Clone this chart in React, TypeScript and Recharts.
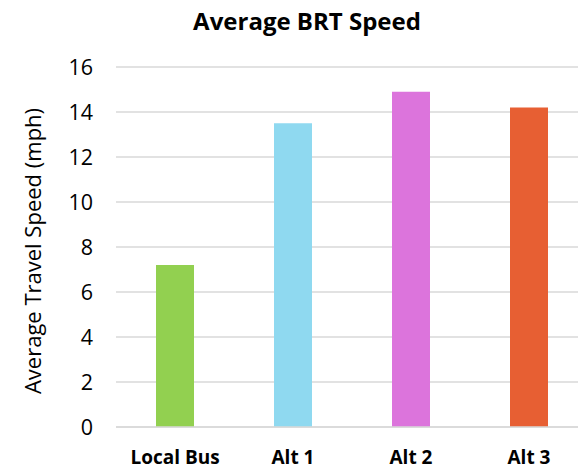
import React from "react";
import { BarChart, Bar, XAxis, YAxis, CartesianGrid, Cell, Label } from "recharts";

const categories = ["Local Bus", "Alt 1", "Alt 2", "Alt 3"];
const speeds = [7.2, 13.5, 14.9, 14.2];
const colors = ["#92D050", "#8FD9F0", "#DC74DC", "#E75F33"];
const yTicks = [0, 2, 4, 6, 8, 10, 12, 14, 16];

const data = categories.map((name, i) => ({ name, speed: speeds[i] }));

const FONT = "'Open Sans', sans-serif";

export default function App() {
  return (
    <div style={{ margin: -8, width: 586, height: 472, overflow: "hidden", position: "relative", background: "#fff" }}>
      <div
        style={{
          position: "absolute",
          left: 0,
          top: 5,
          width: 614,
          textAlign: "center",
          fontFamily: FONT,
          fontWeight: 700,
          fontSize: 24,
          color: "#000",
          lineHeight: "32px",
        }}
      >
        Average BRT Speed
      </div>
      <BarChart
        width={588}
        height={472}
        data={data}
        margin={{ top: 67, right: 0, bottom: 0, left: 0 }}
        barSize={38}
      >
        <CartesianGrid vertical={false} stroke="#D9D9D9" strokeWidth={1.5} />
        <XAxis
          dataKey="name"
          height={45}
          axisLine={{ stroke: "#D9D9D9", strokeWidth: 1.5 }}
          tickLine={false}
          tickSize={0}
          tickMargin={24}
          tick={{ fill: "#000", fontFamily: FONT, fontWeight: 700, fontSize: 19 }}
          interval={0}
        />
        <YAxis
          width={116}
          domain={[0, 16]}
          ticks={yTicks}
          axisLine={false}
          tickLine={false}
          tickSize={0}
          tickMargin={23}
          tick={{ fill: "#000", fontFamily: FONT, fontSize: 21.5 }}
        >
          <Label
            value="Average Travel Speed (mph)"
            angle={-90}
            position="insideLeft"
            offset={0}
            dx={33}
            dy={4}
            style={{ textAnchor: "middle", fill: "#000", fontFamily: FONT, fontSize: 22 }}
          />
        </YAxis>
        <Bar dataKey="speed" isAnimationActive={false}>
          {data.map((d, i) => (
            <Cell key={d.name} fill={colors[i]} />
          ))}
        </Bar>
      </BarChart>
    </div>
  );
}
